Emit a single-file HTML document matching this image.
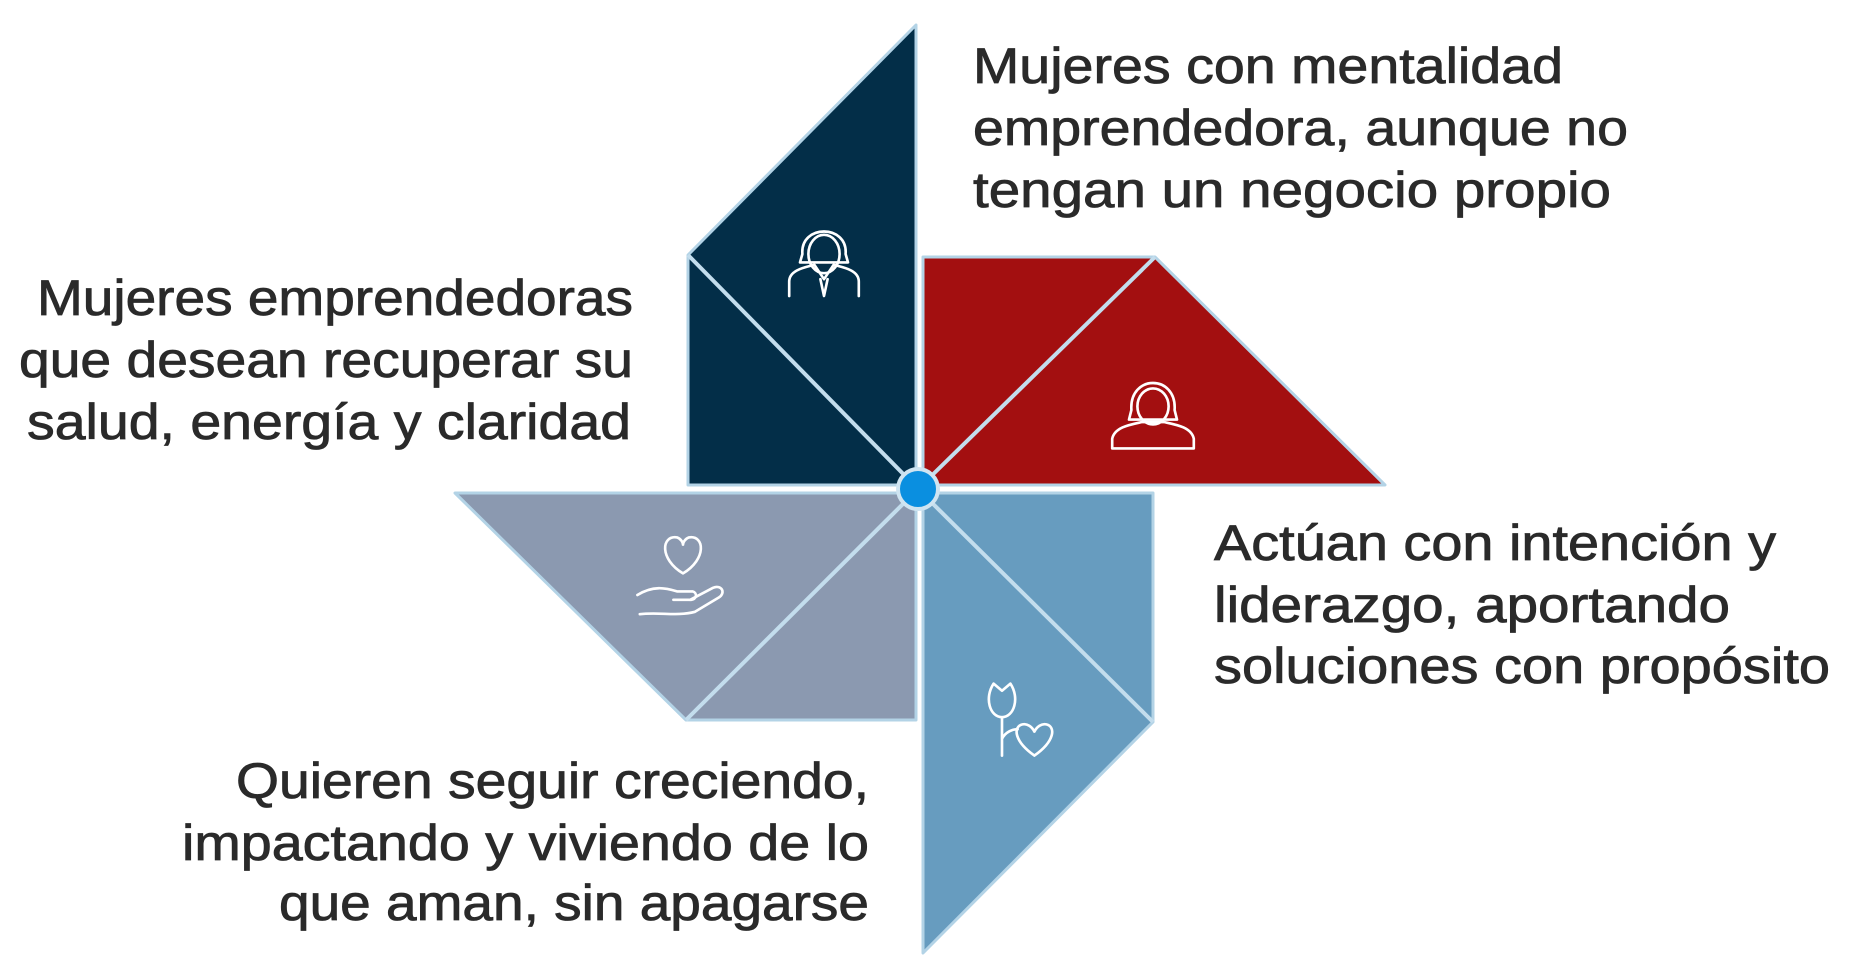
<!DOCTYPE html>
<html><head><meta charset="utf-8"><style>
html,body{margin:0;padding:0;background:#fff;}
svg{display:block;}
text{font-family:"Liberation Sans",sans-serif;font-size:50px;fill:#2a2a2a;stroke:#2a2a2a;stroke-width:0.8px;}
</style></head><body>
<svg width="1849" height="979" viewBox="0 0 1849 979" xmlns="http://www.w3.org/2000/svg">
<g stroke="#b3d3e6" stroke-width="3" stroke-linejoin="round">
<polygon points="916,25 688,255 688,485 916,485" fill="#032e48"/>
<polygon points="923,257 1155,257 1385,485 923,485" fill="#a30f10"/>
<polygon points="455,493 916,493 916,720 686,720" fill="#8b99b0"/>
<polygon points="923,493 1153,493 1153,722 923,953" fill="#679cbf"/>
</g>
<g stroke="#c3dded" stroke-width="4">
<line x1="688" y1="255" x2="918" y2="489"/>
<line x1="1155" y1="257" x2="918" y2="489"/>
<line x1="686" y1="720" x2="918" y2="489"/>
<line x1="1153" y1="722" x2="918" y2="489"/>
</g>
<circle cx="918" cy="489" r="20" fill="#0a8fe0" stroke="#cfe4f1" stroke-width="4"/>
<g fill="none" stroke="#fff" stroke-width="2.2" stroke-linecap="round" stroke-linejoin="round">
<g transform="translate(824,260) scale(1.2)">
<path d="M-18,-5 C-20,-30 20,-30 18,-5 L20,2 L-20,2 Z"/>
<ellipse cx="0" cy="-5" rx="13" ry="16"/>
<path d="M-29,30 L-29,18 C-29,8 -15,6 -8,4 L0,16 L8,4 C15,6 29,8 29,18 L29,30"/>
<path d="M-3,16 L0,30 L3,16"/>
</g>
<g transform="translate(1153,410) scale(1.2)">
<path d="M-18,0 C-20,-30 20,-30 18,0 L20,8 L-20,8 Z"/>
<ellipse cx="0" cy="-3" rx="13" ry="15"/>
<path d="M-34,32 L-34,24 C-32,14 -18,12 -9,10 L9,10 C18,12 32,14 34,24 L34,32 Z"/>
</g>
<g transform="translate(683,583) scale(1.2)">
<path d="M0,-8 C-20,-20 -18,-40 -5,-38 C-2,-37 0,-34 0,-32 C0,-34 2,-37 5,-38 C18,-40 20,-20 0,-8 Z"/>
<path d="M-38,10 C-25,2 -15,4 -5,7 L8,7 C12,8 12,14 6,14 L-8,14"/>
<path d="M6,14 L25,4 C32,1 36,8 30,12 L10,24 C-5,28 -20,24 -36,26"/>
</g>
<g transform="translate(1008,722) scale(1.2)">
<path d="M-12,-32 C-20,-20 -15,-4 -5,-4 C5,-4 10,-20 2,-32 L-5,-26 Z"/>
<path d="M-5,-4 L-5,28 M-5,14 C-2,8 4,6 8,6"/>
<path d="M22,28 C5,16 4,4 12,2 C16,1 20,4 22,8 C24,4 28,1 32,2 C40,4 39,16 22,28 Z"/>
</g>
</g>
<text x="973" y="83" textLength="590" lengthAdjust="spacingAndGlyphs">Mujeres con mentalidad</text>
<text x="973" y="145" textLength="655" lengthAdjust="spacingAndGlyphs">emprendedora, aunque no</text>
<text x="973" y="207" textLength="638" lengthAdjust="spacingAndGlyphs">tengan un negocio propio</text>
<text x="37" y="315" textLength="596" lengthAdjust="spacingAndGlyphs">Mujeres emprendedoras</text>
<text x="19" y="377" textLength="614" lengthAdjust="spacingAndGlyphs">que desean recuperar su</text>
<text x="27" y="439" textLength="604" lengthAdjust="spacingAndGlyphs">salud, energía y claridad</text>
<text x="1214" y="560" textLength="562" lengthAdjust="spacingAndGlyphs">Actúan con intención y</text>
<text x="1214" y="622" textLength="516" lengthAdjust="spacingAndGlyphs">liderazgo, aportando</text>
<text x="1214" y="683" textLength="616" lengthAdjust="spacingAndGlyphs">soluciones con propósito</text>
<text x="236" y="798" textLength="633" lengthAdjust="spacingAndGlyphs">Quieren seguir creciendo,</text>
<text x="182" y="860" textLength="687" lengthAdjust="spacingAndGlyphs">impactando y viviendo de lo</text>
<text x="279" y="920" textLength="590" lengthAdjust="spacingAndGlyphs">que aman, sin apagarse</text>
</svg>
</body></html>
